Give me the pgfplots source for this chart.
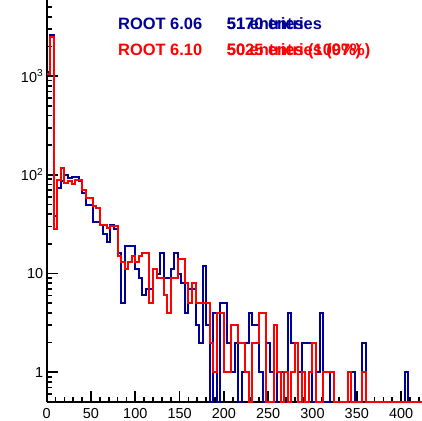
\documentclass[border=0pt]{standalone}
\usepackage{fontspec}
\setmainfont{Liberation Sans}
\usepackage{pgfplots}
\pgfplotsset{compat=1.18}
\usepackage{pgfplotstable}
\definecolor{rootblue}{RGB}{0,0,153}
\definecolor{rootred}{RGB}{255,0,0}

% bin left edge, ROOT 6.06 count, ROOT 6.10 count (bins of width 4)
\pgfplotstableread{
x b r
0 1100 1050
4 2600 2500
8 38 28
12 73 89
16 86 117
20 100 82
24 92 86
28 94 80
32 94 89
36 86 89
40 65 70
44 50 58
48 50 58
52 33 48
56 33 46
60 31 31
64 25 31
68 21 29
72 31 30
76 28 30
80 16 15
84 5 13
88 19 11
92 19 13
96 19 15
100 11 13
104 9 15
108 6 16
112 7 16
116 7 5
120 11 11
124 10 9
128 16 9
132 9 6
136 9 4
140 11 9
144 16 9
148 10 14
152 8 14
156 4 8
160 7 5
164 7 8
168 3 5
172 2 5
176 12 5
180 3 5
184 0 2
188 4 1
192 0 4
196 5 4
200 5 1
204 2 1
208 1 3
212 2 3
216 0 2
220 1 2
224 2 1
228 4 0
232 3 2
236 3 2
240 1 4
244 0 4
248 2 0
252 1 0
256 0 3
260 1 1
264 1 0
268 0 1
272 4 0
276 2 1
280 2 2
284 1 0
288 2 1
292 2 0
296 2 1
300 0 2
304 1 0
308 4 0
312 0 1
316 0 1
320 1 1
324 0 0
328 0 0
332 0 0
336 0 0
340 0 1
344 1 0
348 0 0
352 0 0
356 2 1
360 0 0
364 0 0
368 0 0
372 0 0
376 0 0
380 0 0
384 0 0
388 0 0
392 0 0
396 0 0
400 0 0
404 1 0
408 0 0
412 0 0
416 0 0
420 0 0
424 0 0
}\hist

\begin{document}
\begin{tikzpicture}[x=1bp,y=1bp]
\begin{axis}[
  at={(46.7bp,19bp)}, anchor=south west,
  scale only axis, width=375.3bp, height=402bp,
  xmin=0, xmax=423.6,
  ymode=log, ymin=0.5, ymax=5900,
  axis x line*=bottom, axis y line*=left,
  axis line style={-, line width=2bp, black},
  tick align=inside,
  major tick length=11bp, minor tick length=5.5bp,
  tick style={black, line width=1.7bp},
  xtick={0,50,100,150,200,250,300,350,400},
  xticklabels={0,50,100,150,200,250,300,350,400},
  minor xtick={10,20,...,420},
  ytick={1,10,100,1000},
  yticklabels={1,10,10\textsuperscript{2},10\textsuperscript{3}},
  minor ytick={0.6,0.7,0.8,0.9,2,3,4,5,6,7,8,9,20,30,40,50,60,70,80,90,200,300,400,500,600,700,800,900,2000,3000,4000,5000},
  ticklabel style={font=\fontsize{14.5}{16}\selectfont},
  xticklabel style={yshift=-2.5bp},
  clip=false,
]
\addplot[const plot, no marks, rootblue, line width=2bp]
  table[x=x, y expr={max(\thisrow{b},0.5)}] {\hist};
\addplot[const plot, no marks, rootred, line width=2bp]
  table[x=x, y expr={max(\thisrow{r},0.5)}] {\hist};
\end{axis}
\begin{scope}[font=\fontsize{16.5}{18}\selectfont\bfseries]
\node[anchor=base west, inner sep=0, text=rootblue] at (118,391) {ROOT 6.06};
\node[anchor=base west, inner sep=0, text=rootblue] at (226.7,391) {5170 entries};
\node[anchor=base west, inner sep=0, text=rootblue] at (226.7,391) {51 entries};
\node[anchor=base west, inner sep=0, text=rootred] at (118,366) {ROOT 6.10};
\node[anchor=base west, inner sep=0, text=rootred] at (226.7,366) {5025 entries (97\%)};
\node[anchor=base west, inner sep=0, text=rootred] at (226.7,366) {50 entries (100\%)};
\end{scope}
\pgfresetboundingbox
\path (0,0) rectangle (422,421);
\end{tikzpicture}
\end{document}
